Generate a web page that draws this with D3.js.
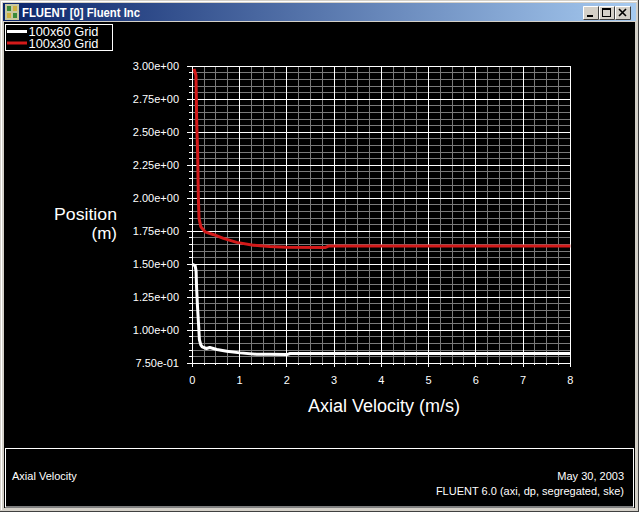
<!DOCTYPE html>
<html>
<head>
<meta charset="utf-8">
<title>FLUENT [0] Fluent Inc</title>
<script src="https://d3js.org/d3.v7.min.js"></script>
<style>
  body { margin: 0; background: #d4d0c8; }
  svg { display: block; font-family: "Liberation Sans", Arial, sans-serif; }
  .tick-label { fill: #fff; font-size: 11px; }
</style>
</head>
<body>
<div id="chart"></div>
<script>
// 100x60 grid profile (white)
var vel60 = [0.00, 0.06, 0.08, 0.09, 0.11, 0.135, 0.15, 0.18, 0.21, 0.30, 0.37, 0.52, 0.73, 1.01, 1.36, 1.64, 2.00, 2.07, 8.00];
var pos60 = [1.50, 1.49, 1.45, 1.33, 1.18, 1.03, 0.93, 0.89, 0.874, 0.862, 0.870, 0.855, 0.842, 0.829, 0.819, 0.819, 0.816, 0.824, 0.824];

// 100x30 grid profile (red)
var vel30 = [0.036, 0.078, 0.093, 0.114, 0.127, 0.142, 0.18, 0.27, 0.44, 0.66, 0.94, 1.29, 1.64, 2.00, 2.82, 2.88, 8.00];
var pos30 = [2.98, 2.93, 2.58, 2.33, 2.02, 1.85, 1.784, 1.746, 1.726, 1.696, 1.666, 1.645, 1.635, 1.630, 1.628, 1.638, 1.638];

var seriesNames = ["100x60 Grid", "100x30 Grid"];

var xTicks = [0, 1, 2, 3, 4, 5, 6, 7, 8];
var xTickLabels = ["0", "1", "2", "3", "4", "5", "6", "7", "8"];
var yTicks = [0.75, 1.00, 1.25, 1.50, 1.75, 2.00, 2.25, 2.50, 2.75, 3.00];
var yTickLabels = ["7.50e-01", "1.00e+00", "1.25e+00", "1.50e+00", "1.75e+00",
                   "2.00e+00", "2.25e+00", "2.50e+00", "2.75e+00", "3.00e+00"];

var W = 639, H = 512;
var svg = d3.select("#chart").append("svg")
    .attr("width", W)
    .attr("height", H);

// window frame
var defs = svg.append("defs");
var grad = defs.append("linearGradient").attr("id", "titlegrad");
grad.append("stop").attr("offset", "0%").attr("stop-color", "#0a246a");
grad.append("stop").attr("offset", "100%").attr("stop-color", "#a6caf0");

svg.append("rect").attr("width", W).attr("height", H).attr("fill", "#d4d0c8");
svg.append("line").attr("x1", 1).attr("y1", 1.5).attr("x2", W - 2).attr("y2", 1.5).attr("stroke", "#fff");
svg.append("line").attr("x1", 1.5).attr("y1", 1).attr("x2", 1.5).attr("y2", H - 2).attr("stroke", "#fff");
svg.append("line").attr("x1", W - 0.5).attr("y1", 0).attr("x2", W - 0.5).attr("y2", H).attr("stroke", "#404040");
svg.append("line").attr("x1", 0).attr("y1", H - 0.5).attr("x2", W).attr("y2", H - 0.5).attr("stroke", "#404040");

svg.append("rect").attr("x", 3).attr("y", 3).attr("width", 633).attr("height", 18)
    .attr("fill", "url(#titlegrad)");

// little app icon
var icon = svg.append("g").attr("transform", "translate(5,4)");
icon.append("rect").attr("width", 14).attr("height", 16).attr("fill", "#c8c8a0");
icon.append("rect").attr("x", 2).attr("y", 2).attr("width", 4).attr("height", 5).attr("fill", "#3a8a3a");
icon.append("rect").attr("x", 8).attr("y", 2).attr("width", 4).attr("height", 5).attr("fill", "#d0b040");
icon.append("rect").attr("x", 2).attr("y", 9).attr("width", 4).attr("height", 5).attr("fill", "#d0b040");
icon.append("rect").attr("x", 8).attr("y", 9).attr("width", 4).attr("height", 5).attr("fill", "#3a8a3a");

svg.append("text").attr("x", 22).attr("y", 16.5)
    .attr("fill", "#fff").attr("font-weight", "bold").attr("font-size", "12px")
    .attr("textLength", 118).attr("lengthAdjust", "spacingAndGlyphs")
    .text("FLUENT [0] Fluent Inc");

// caption buttons
[583, 599, 615].forEach(function(bx, i) {
  var b = svg.append("g").attr("transform", "translate(" + bx + ",6)");
  b.append("rect").attr("width", 16).attr("height", 14).attr("fill", "#d4d0c8");
  b.append("path").attr("d", "M0.5,13.5V0.5H15.5").attr("fill", "none").attr("stroke", "#fff");
  b.append("path").attr("d", "M0.5,13.5H15.5V0.5").attr("fill", "none").attr("stroke", "#404040");
  if (i === 0) {
    b.append("rect").attr("x", 4).attr("y", 9).attr("width", 6).attr("height", 2).attr("fill", "#000");
  } else if (i === 1) {
    b.append("rect").attr("x", 3.5).attr("y", 2.5).attr("width", 8).attr("height", 8)
        .attr("fill", "none").attr("stroke", "#000");
    b.append("rect").attr("x", 3).attr("y", 2).attr("width", 9).attr("height", 2).attr("fill", "#000");
  } else {
    b.append("path").attr("d", "M4,3L11,10M11,3L4,10").attr("stroke", "#000").attr("stroke-width", 1.6);
  }
});

// black graphics area
svg.append("rect").attr("x", 4).attr("y", 22).attr("width", 631).attr("height", 486).attr("fill", "#000");

// scales
var x = d3.scaleLinear().domain([0, 8]).range([192.3, 570.3]);
var y = d3.scaleLinear().domain([0.75, 3.0]).range([363.3, 66.3]);

var plot = svg.append("g").attr("shape-rendering", "crispEdges");

// minor grid
var xMinor = d3.range(0, 8.001, 0.25).filter(function(d) { return Math.abs(d - Math.round(d)) > 1e-6; });
var yMinor = d3.range(0.75, 3.0001, 0.05).filter(function(d) {
  return Math.abs(d * 4 - Math.round(d * 4)) > 1e-6;
});

plot.selectAll(".xminor").data(xMinor).enter().append("line")
    .attr("x1", function(d) { return x(d); }).attr("x2", function(d) { return x(d); })
    .attr("y1", y(0.75)).attr("y2", y(3.0))
    .attr("stroke", "#7a7a7a");
plot.selectAll(".yminor").data(yMinor).enter().append("line")
    .attr("y1", function(d) { return y(d); }).attr("y2", function(d) { return y(d); })
    .attr("x1", x(0)).attr("x2", x(8))
    .attr("stroke", "#7a7a7a");

// major grid
plot.selectAll(".xmajor").data(xTicks).enter().append("line")
    .attr("x1", function(d) { return x(d); }).attr("x2", function(d) { return x(d); })
    .attr("y1", y(0.75) + 4).attr("y2", y(3.0))
    .attr("stroke", "#fff");
plot.selectAll(".ymajor").data(yTicks).enter().append("line")
    .attr("y1", function(d) { return y(d); }).attr("y2", function(d) { return y(d); })
    .attr("x1", x(0) - 5).attr("x2", x(8))
    .attr("stroke", "#fff");

// minor ticks outside the axes
plot.selectAll(".xmt").data(xMinor).enter().append("line")
    .attr("x1", function(d) { return x(d); }).attr("x2", function(d) { return x(d); })
    .attr("y1", y(0.75)).attr("y2", y(0.75) + 2)
    .attr("stroke", "#fff");
plot.selectAll(".ymt").data(yMinor).enter().append("line")
    .attr("y1", function(d) { return y(d); }).attr("y2", function(d) { return y(d); })
    .attr("x1", x(0) - 3).attr("x2", x(0))
    .attr("stroke", "#fff");

// tick labels
svg.selectAll(".ylab").data(yTicks).enter().append("text")
    .attr("class", "tick-label")
    .attr("x", 179)
    .attr("y", function(d) { return y(d) + 4; })
    .attr("text-anchor", "end")
    .text(function(d, i) { return yTickLabels[i]; });
svg.selectAll(".xlab").data(xTicks).enter().append("text")
    .attr("class", "tick-label")
    .attr("x", function(d) { return x(d); })
    .attr("y", 384)
    .attr("text-anchor", "middle")
    .text(function(d, i) { return xTickLabels[i]; });

// axis titles
svg.append("text").attr("x", 384).attr("y", 412)
    .attr("text-anchor", "middle").attr("fill", "#fff").attr("font-size", "18px")
    .text("Axial Velocity (m/s)");
svg.append("text").attr("x", 117).attr("y", 220)
    .attr("text-anchor", "end").attr("fill", "#fff").attr("font-size", "17px")
    .attr("textLength", 63).attr("lengthAdjust", "spacingAndGlyphs")
    .text("Position");
svg.append("text").attr("x", 117).attr("y", 239)
    .attr("text-anchor", "end").attr("fill", "#fff").attr("font-size", "17px")
    .text("(m)");

// profiles
var line = d3.line()
    .x(function(d) { return x(d[0]); })
    .y(function(d) { return y(d[1]); });

var colors = ["#ffffff", "#d41a1a"];
var series = [d3.zip(vel60, pos60), d3.zip(vel30, pos30)];

svg.selectAll(".profile").data(series).enter().append("path")
    .attr("class", "profile")
    .attr("d", line)
    .attr("fill", "none")
    .attr("stroke", function(d, i) { return colors[i]; })
    .attr("stroke-width", 3)
    .attr("stroke-linejoin", "round");

// legend
var legend = svg.append("g");
legend.append("rect").attr("x", 5.5).attr("y", 24.5).attr("width", 107).attr("height", 26)
    .attr("fill", "#000").attr("stroke", "#fff");
seriesNames.forEach(function(name, i) {
  var ly = 31.5 + i * 11.5;
  legend.append("line").attr("x1", 7).attr("x2", 27).attr("y1", ly).attr("y2", ly)
      .attr("stroke", colors[i]).attr("stroke-width", 3);
  legend.append("text").attr("x", 28.5).attr("y", 35.5 + i * 12.5)
      .attr("fill", "#fff").attr("font-size", "12px")
      .attr("textLength", 70).attr("lengthAdjust", "spacingAndGlyphs")
      .text(name);
});

// bottom info panel
svg.append("rect").attr("x", 5.5).attr("y", 448.5).attr("width", 628).attr("height", 58.5)
    .attr("fill", "none").attr("stroke", "#fff");
svg.append("text").attr("x", 12).attr("y", 480).attr("fill", "#fff").attr("font-size", "11px")
    .text("Axial Velocity");
svg.append("text").attr("x", 624).attr("y", 480).attr("fill", "#fff").attr("font-size", "11px")
    .attr("text-anchor", "end").text("May 30, 2003");
svg.append("text").attr("x", 624).attr("y", 495).attr("fill", "#fff").attr("font-size", "11px")
    .attr("text-anchor", "end").text("FLUENT 6.0 (axi, dp, segregated, ske)");
</script>
</body>
</html>
